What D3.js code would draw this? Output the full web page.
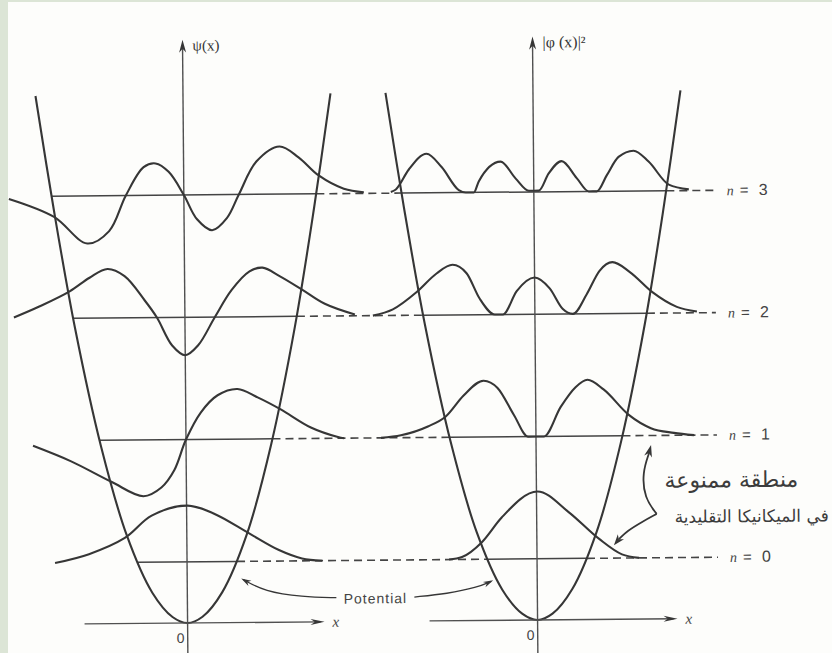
<!DOCTYPE html>
<html>
<head>
<meta charset="utf-8">
<script src="https://cdn.jsdelivr.net/npm/d3@7"></script>
<style>
  html, body { margin: 0; padding: 0; background: #fdfdfb; }
  svg { display: block; }
</style>
</head>
<body>
<main></main>
<script>
// energy levels (units of hbar*omega) and where each level meets the potential
const levels = [0.5, 1.5, 2.5, 3.5];
const levelNames = ['0', '1', '2', '3'];
const turnPoints = [1.0, 1.73, 2.24, 2.65];
const dashEnd = 3.62;

// potential curve (x, V)
const potX = [-2.95, -2.6, -2.2, -1.7, -1.2, -0.7, -0.3, 0, 0.3, 0.7, 1.2, 1.7, 2.2, 2.6, 2.95];
const potV = [4.32, 3.38, 2.42, 1.45, 0.72, 0.25, 0.05, 0, 0.05, 0.25, 0.72, 1.45, 2.42, 3.38, 4.32];

// psi(x): [x, offset above the level]
const psi0 = [[-2.64, 0], [-1.96, 0.07], [-1.24, 0.2], [-0.7, 0.38], [0.02, 0.46], [0.56, 0.39],
  [1.24, 0.23], [1.84, 0.09], [2.3, 0.02], [2.7, 0]];
const psi1 = [[-3.06, -0.04], [-2.3, -0.17], [-1.5, -0.34], [-0.86, -0.46], [-0.5, -0.39], [-0.24, -0.25],
  [0, 0], [0.3, 0.22], [0.64, 0.36], [1.04, 0.41], [1.44, 0.34], [1.9, 0.24], [2.5, 0.09], [3.04, 0.01], [3.16, 0]];
const psi2 = [[-3.42, 0.01], [-2.9, 0.1], [-2.3, 0.22], [-1.9, 0.33], [-1.54, 0.4], [-1.2, 0.34],
  [-0.8, 0.14], [-0.56, 0], [-0.26, -0.23], [0, -0.31], [0.26, -0.23], [0.6, 0], [0.94, 0.22],
  [1.3, 0.37], [1.56, 0.4], [1.9, 0.33], [2.34, 0.22], [2.8, 0.1], [3.4, 0.01]];
const psi3 = [[-3.5, -0.02], [-2.6, -0.17], [-1.94, -0.39], [-1.5, -0.29], [-1.16, 0], [-0.8, 0.23],
  [-0.56, 0.26], [-0.3, 0.19], [0, 0], [0.26, -0.2], [0.56, -0.29], [0.86, -0.19], [1.1, 0],
  [1.46, 0.27], [1.92, 0.39], [2.3, 0.3], [2.7, 0.15], [3.2, 0.04], [3.6, 0.01]];

// |psi(x)|^2: [x, offset above the level]
const prob0 = [[-1.76, 0], [-1.5, 0.02], [-1.1, 0.14], [-0.7, 0.34], [0.02, 0.55], [0.64, 0.38],
  [1.24, 0.16], [1.7, 0.03], [2.04, 0]];
const prob1 = [[-3.1, 0], [-2.7, 0.02], [-2.16, 0.09], [-1.8, 0.17], [-1.44, 0.34], [-1.04, 0.46],
  [-0.76, 0.4], [-0.44, 0.18], [-0.16, 0], [0.16, 0], [0.5, 0.24], [0.8, 0.4], [1.04, 0.46],
  [1.36, 0.38], [1.86, 0.17], [2.3, 0.06], [2.76, 0.02], [3.16, 0]];
const prob2 = [[-3.24, 0], [-2.84, 0.05], [-2.36, 0.19], [-1.96, 0.34], [-1.64, 0.41], [-1.36, 0.34],
  [-1.1, 0.13], [-0.8, 0], [-0.64, 0], [-0.36, 0.19], [0, 0.3], [0.3, 0.21], [0.56, 0.04],
  [0.76, 0], [1.04, 0.16], [1.3, 0.35], [1.56, 0.42], [1.9, 0.34], [2.36, 0.17], [2.84, 0.05], [3.24, 0.01]];
const prob3 = [[-2.86, 0.01], [-2.76, 0.03], [-2.5, 0.19], [-2.14, 0.32], [-1.84, 0.21], [-1.5, 0.02],
  [-1.36, 0], [-1.2, 0], [-1.1, 0.09], [-0.66, 0.25], [-0.36, 0.11], [-0.1, 0.01], [0.1, 0.01],
  [0.3, 0.15], [0.56, 0.25], [0.86, 0.11], [1.1, 0], [1.26, 0], [1.46, 0.13], [1.7, 0.28],
  [2.0, 0.33], [2.3, 0.24], [2.7, 0.05], [3.1, 0.01]];

const width = 832;
const height = 653;
const ink = '#363636';

const svg = d3.select('main')
  .append('svg')
  .attr('width', width)
  .attr('height', height);

svg.append('rect')
  .attr('width', width)
  .attr('height', height)
  .attr('fill', '#fdfdfb');

// scan border
svg.append('rect').attr('width', 8).attr('height', height).attr('fill', '#dce5d6');
svg.append('rect').attr('width', width).attr('height', 2).attr('fill', '#dce5d6');

// whole figure is slightly skewed in the scan
const fig = svg.append('g')
  .attr('transform', 'rotate(-0.5, 416, 326)');

const y = d3.scaleLinear().domain([0, 1]).range([621, 498.7]);

const panels = [
  { cx: 185, curves: [psi0, psi1, psi2, psi3], shape: d3.curveCatmullRom.alpha(0.5), label: 'ψ(x)', axisFrom: -2.06, axisTo: 2.74 },
  { cx: 535, curves: [prob0, prob1, prob2, prob3], shape: d3.curveMonotoneX, label: '|φ (x)|²', axisFrom: -2.16, axisTo: 2.8 }
];
panels.forEach(p => {
  p.x = d3.scaleLinear().domain([0, 1]).range([p.cx, p.cx + 50]);
});

function arrowHead(g, tx, ty, angle, len, half) {
  const a = angle * Math.PI / 180;
  const bx = tx - len * Math.cos(a);
  const by = ty - len * Math.sin(a);
  const nx = -Math.sin(a) * half;
  const ny = Math.cos(a) * half;
  const mx = tx - len * 0.7 * Math.cos(a);
  const my = ty - len * 0.7 * Math.sin(a);
  g.append('path')
    .attr('d', `M${tx},${ty}L${bx + nx},${by + ny}L${mx},${my}L${bx - nx},${by - ny}Z`)
    .attr('fill', ink);
}

// Level lines
const [left, right] = panels;
levels.forEach((e, i) => {
  const t = turnPoints[i];
  const yy = y(e);
  panels.forEach(p => {
    fig.append('line')
      .attr('x1', p.x(-t)).attr('x2', p.x(t))
      .attr('y1', yy).attr('y2', yy)
      .attr('stroke', '#444')
      .attr('stroke-width', 1.5);
  });
  fig.append('line')
    .attr('x1', left.x(t)).attr('x2', right.x(-t))
    .attr('y1', yy).attr('y2', yy)
    .attr('stroke', '#444')
    .attr('stroke-width', 1.6)
    .attr('stroke-dasharray', '8 5');
  fig.append('line')
    .attr('x1', right.x(t)).attr('x2', right.x(dashEnd))
    .attr('y1', yy).attr('y2', yy)
    .attr('stroke', '#444')
    .attr('stroke-width', 1.6)
    .attr('stroke-dasharray', '8 5');

  const lx = right.x(dashEnd);
  const lab = fig.append('text')
    .attr('y', yy + 5)
    .attr('fill', '#444')
    .style('font-family', '"Liberation Sans", Arial, sans-serif');
  lab.append('tspan').attr('x', lx + 12).text('n')
    .style('font-family', '"Liberation Serif", serif')
    .style('font-style', 'italic')
    .style('font-size', '14px');
  lab.append('tspan').attr('x', lx + 25).text('=').style('font-size', '15px');
  lab.append('tspan').attr('x', lx + 44).text(levelNames[i]).style('font-size', '16px');
});

// Potential, axes, curves
panels.forEach(p => {
  const pot = potX.map((v, i) => [v, potV[i]]);
  fig.append('path')
    .datum(pot)
    .attr('d', d3.line().x(d => p.x(d[0])).y(d => y(d[1])).curve(d3.curveCatmullRom))
    .attr('fill', 'none')
    .attr('stroke', ink)
    .attr('stroke-width', 2.1);

  // vertical axis
  fig.append('line')
    .attr('x1', p.x(0)).attr('x2', p.x(0))
    .attr('y1', y(-0.3)).attr('y2', y(4.7))
    .attr('stroke', '#505050')
    .attr('stroke-width', 1.4);
  arrowHead(fig, p.x(0), y(4.77), -90, 13, 3.5);
  fig.append('text')
    .attr('x', p.x(0) + 10)
    .attr('y', y(4.77) + 11)
    .attr('fill', '#333')
    .style('font-family', '"Liberation Serif", serif')
    .style('font-size', p.cx > 300 ? '16px' : '15px')
    .text(p.label);

  // horizontal axis
  fig.append('line')
    .attr('x1', p.x(p.axisFrom)).attr('x2', p.x(p.axisTo) - 4)
    .attr('y1', y(0)).attr('y2', y(0))
    .attr('stroke', '#505050')
    .attr('stroke-width', 1.4);
  arrowHead(fig, p.x(p.axisTo), y(0), 0, 14, 3);
  fig.append('text')
    .attr('x', p.x(p.axisTo) + 8)
    .attr('y', y(0) + 5)
    .attr('fill', '#444')
    .style('font-family', '"Liberation Serif", serif')
    .style('font-style', 'italic')
    .style('font-size', '15px')
    .text('x');
  fig.append('text')
    .attr('x', p.x(0) - 11)
    .attr('y', y(0) + 20)
    .attr('fill', '#444')
    .style('font-family', '"Liberation Sans", Arial, sans-serif')
    .style('font-size', '14px')
    .text('0');

  const line = d3.line().curve(p.shape);
  p.curves.forEach((c, i) => {
    fig.append('path')
      .datum(c)
      .attr('d', line.x(d => p.x(d[0])).y(d => y(levels[i] + d[1])))
      .attr('fill', 'none')
      .attr('stroke', ink)
      .attr('stroke-width', 2.1);
  });
});

// "Potential" callout
fig.append('text')
  .attr('x', 373)
  .attr('y', 603)
  .attr('text-anchor', 'middle')
  .attr('fill', '#444')
  .style('font-family', '"Liberation Sans", Arial, sans-serif')
  .style('font-size', '14px')
  .style('letter-spacing', '1px')
  .text('Potential');

const curvy = d3.line().curve(d3.curveBasis);
fig.append('path')
  .attr('d', curvy([[334, 597], [300, 596], [262, 590], [241, 578]]))
  .attr('fill', 'none').attr('stroke', ink).attr('stroke-width', 1.3);
arrowHead(fig, 239, 577, 210, 10, 3);
fig.append('path')
  .attr('d', curvy([[412, 597], [445, 594], [475, 588], [489, 582]]))
  .attr('fill', 'none').attr('stroke', ink).attr('stroke-width', 1.3);
arrowHead(fig, 491, 581, -25, 10, 3);

// Arabic note: forbidden region in classical mechanics
const note = fig.append('g')
  .attr('fill', '#3c3c3c')
  .style('font-family', '"DejaVu Sans", sans-serif');
note.append('text')
  .attr('x', 730).attr('y', 490)
  .attr('text-anchor', 'middle')
  .style('font-size', '22px')
  .text('منطقة ممنوعة');
note.append('text')
  .attr('x', 750).attr('y', 525)
  .attr('text-anchor', 'middle')
  .style('font-size', '17px')
  .text('في الميكانيكا التقليدية');

fig.append('path')
  .attr('d', curvy([[655, 516], [643, 500], [641, 475], [648, 455]]))
  .attr('fill', 'none').attr('stroke', ink).attr('stroke-width', 1.8);
arrowHead(fig, 650, 447, -75, 12, 4);
fig.append('path')
  .attr('d', curvy([[655, 516], [640, 524], [625, 533], [617, 541]]))
  .attr('fill', 'none').attr('stroke', ink).attr('stroke-width', 1.8);
arrowHead(fig, 612, 547, 130, 11, 4);
</script>
</body>
</html>
